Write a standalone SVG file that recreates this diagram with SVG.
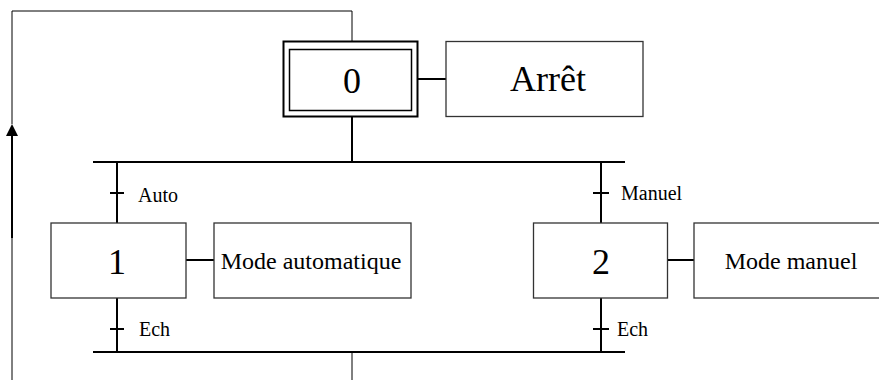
<svg xmlns="http://www.w3.org/2000/svg" width="879" height="380" viewBox="0 0 879 380">
  <style>
    .box { fill: #fff; stroke: #333; stroke-width: 1.3; }
    .thin { fill: none; stroke: #000; stroke-width: 1; }
    .bar { fill: none; stroke: #000; stroke-width: 2; }
    .link { fill: none; stroke: #000; stroke-width: 2; }
    .num { font-family: "Liberation Serif", "Times New Roman", serif; font-size: 36px; text-anchor: middle; fill: #000; }
    .act { font-family: "Liberation Serif", "Times New Roman", serif; font-size: 24px; text-anchor: middle; fill: #000; }
    .cond { font-family: "Liberation Serif", "Times New Roman", serif; font-size: 20px; fill: #000; }
  </style>
  <defs>
    <marker id="arrow" markerWidth="12" markerHeight="12" refX="6" refY="1" orient="auto" markerUnits="userSpaceOnUse" viewBox="0 0 12 12">
      <path d="M0,12 L6,0 L12,12 Z" fill="#000"/>
    </marker>
  </defs>

  <!-- connectors -->
  <g id="connectors">
    <!-- return loop to initial step -->
    <path class="thin" d="M352,380 L352,352"/>
    <path class="thin" d="M12,380 L12,238"/>
    <path d="M12,238 L12,136" stroke="#000" stroke-width="2" fill="none"/>
    <path d="M6,136 L12,124 L18,136 Z" fill="#000"/>
    <path class="thin" d="M12,124 L12,11 L352,11 L352,41"/>

    <!-- step 0 to divergence -->
    <path class="link" d="M352,117 L352,162"/>
    <!-- divergence bar -->
    <path class="bar" d="M93,162 L625,162"/>
    <!-- convergence bar -->
    <path class="bar" d="M93,352 L625,352"/>

    <!-- left branch -->
    <path class="link" d="M117,162 L117,223"/>
    <path class="link" d="M110,193 L124,193"/>
    <path class="link" d="M117,298 L117,352"/>
    <path class="link" d="M110,329 L124,329"/>

    <!-- right branch -->
    <path class="link" d="M601,162 L601,223"/>
    <path class="link" d="M593,193 L609,193"/>
    <path class="link" d="M601,298 L601,352"/>
    <path class="link" d="M593,329 L609,329"/>

    <!-- action links -->
    <path class="link" d="M418,79 L446,79"/>
    <path class="link" d="M186,260 L214,260"/>
    <path class="link" d="M668,260 L694,260"/>
  </g>

  <!-- transition conditions -->
  <g id="conditions">
    <text class="cond" x="138" y="202">Auto</text>
    <text class="cond" x="139" y="336">Ech</text>
    <text class="cond" x="621" y="200">Manuel</text>
    <text class="cond" x="617" y="336">Ech</text>
  </g>

  <!-- initial step -->
  <g id="step0">
    <rect x="283.5" y="41.5" width="134" height="75" fill="#fff" stroke="#000" stroke-width="2"/>
    <rect x="289.5" y="49.5" width="122" height="61" fill="none" stroke="#000" stroke-width="1.5"/>
    <text class="num" x="352" y="93">0</text>
  </g>
  <g id="action0">
    <rect class="box" x="446" y="41.5" width="197" height="75"/>
    <text class="num" x="548" y="91">Arrêt</text>
  </g>

  <g id="step1">
    <rect class="box" x="51" y="223" width="135" height="75"/>
    <text class="num" x="117" y="274">1</text>
  </g>
  <g id="action1">
    <rect class="box" x="214" y="223" width="197" height="75"/>
    <text class="act" x="311" y="269">Mode automatique</text>
  </g>

  <g id="step2">
    <rect class="box" x="533.5" y="223" width="134" height="75"/>
    <text class="num" x="601" y="274">2</text>
  </g>
  <g id="action2">
    <rect class="box" x="694" y="223" width="200" height="75"/>
    <text class="act" x="791" y="269">Mode manuel</text>
  </g>
</svg>
